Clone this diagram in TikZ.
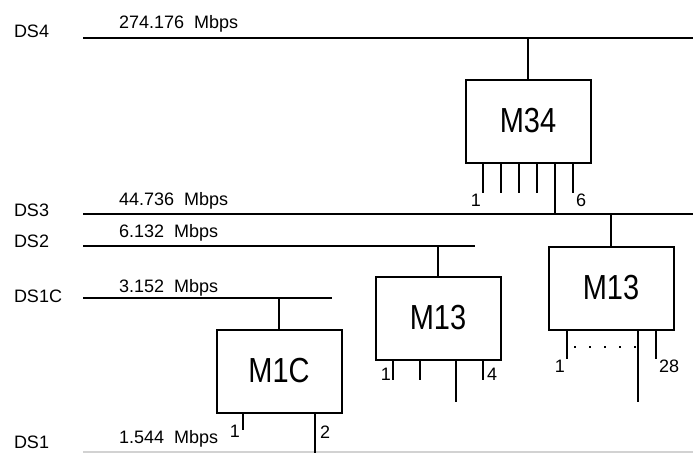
\documentclass[tikz,border=0pt]{standalone}
\usepackage{fontspec}
\setmainfont{Liberation Sans}
\usetikzlibrary{positioning}

\begin{document}
\begin{tikzpicture}[
  x=1pt,y=-1pt,
  every node/.style={inner sep=0pt,font=\fontsize{18}{20}\selectfont},
  every path/.style={line width=2pt},
  mux/.style={rectangle,draw,line width=2pt,minimum width=125pt,minimum height=83pt,
    font=\fontsize{29}{30}\selectfont},
  lvl/.style={anchor=base west},
]
\useasboundingbox (0,0) rectangle (693,453);
% buses
\coordinate(ds4w) at(83,38);   \coordinate(ds4e) at(693,38);
\coordinate(ds3w) at(83,214);  \coordinate(ds3e) at(693,214);
\coordinate(ds2w) at(83,246);  \coordinate(ds2e) at(475,246);
\coordinate(ds1cw) at(83,298); \coordinate(ds1ce) at(332,298);
\coordinate(ds1w) at(83,452);  \coordinate(ds1e) at(693,452);
\draw(ds4w)--(ds4e); \draw(ds3w)--(ds3e);
\draw(ds2w)--(ds2e); \draw(ds1cw)--(ds1ce);
\draw[gray!35](ds1w)--(ds1e);
\node[lvl](l4) at(13,37){DS4};   \node[lvl](r4) at(118,28){274.176\ \ Mbps};
\node[lvl](l3) at(13,216){DS3};  \node[lvl](r3) at(118,205){44.736\ \ Mbps};
\node[lvl](l2) at(13,247){DS2};  \node[lvl](r2) at(118,237){6.132\ \ Mbps};
\node[lvl](l1c) at(13,302){DS1C};\node[lvl](r1c) at(118,292){3.152\ \ Mbps};
\node[lvl](l1) at(13,448){DS1};  \node[lvl](r1) at(118,443){1.544\ \ Mbps};
% multiplexers
\node[mux](m34) at(528,121){\scalebox{1}[1.2]{M34}};
\node[mux](m13a) at(438,318){\scalebox{1}[1.2]{M13}};
\node[mux](m13b) at(611,288){\scalebox{1}[1.2]{M13}};
\node[mux](m1c) at(279,371){\scalebox{1}[1.2]{M1C}};
\draw(m34.north)--(m34.north|-ds4w);
\draw(m13a.north)--(m13a.north|-ds2w);
\draw(m13b.north)--(m13b.north|-ds3w);
\draw(m1c.north)--(m1c.north|-ds1cw);
% M34 ports
\foreach \x in {483,501,519,537,573} \draw(\x,162)--(\x,193);
\draw(555,162)--(555,214);
\node[anchor=base east](p34a) at(482,206){1};
\node[anchor=base west](p34b) at(575,206){6};
% M13 (DS2) ports
\foreach \x in {393,420,483} \draw(\x,360)--(\x,380);
\draw(456,360)--(456,402);
\node[anchor=base east](p13a) at(392,380){1};
\node[anchor=base west](p13b) at(486,380){4};
% M13 (DS3) ports
\foreach \x in {567,656} \draw(\x,329)--(\x,359);
\draw(638,329)--(638,402);
\draw[line width=2pt,dash pattern=on 2pt off 13pt](574,347)--(636,347);
\node[anchor=base east](p13c) at(566,372){1};
\node[anchor=base west](p13d) at(658,372){28};
% M1C ports
\draw(243,413)--(243,430);
\draw(315,413)--(315,453);
\node[anchor=base east](p1ca) at(241,437){1};
\node[anchor=base west](p1cb) at(319,438){2};
\end{tikzpicture}
\end{document}
